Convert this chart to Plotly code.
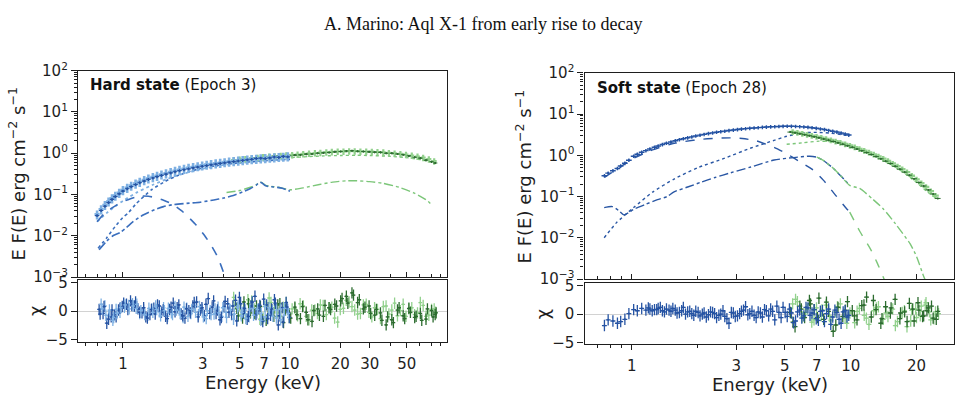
import plotly.graph_objects as go

# ====================== DATA ======================
# ---------- Left panel: Hard state (Epoch 3) ----------
L_E_blue = [0.70, 0.74, 0.78, 0.82, 0.86, 0.90, 0.95, 1.00, 1.06, 1.12,
            1.19, 1.26, 1.34, 1.42, 1.51, 1.60, 1.70, 1.81, 1.93, 2.05,
            2.18, 2.32, 2.47, 2.63, 2.80, 2.98, 3.17, 3.37, 3.59, 3.82,
            4.06, 4.32, 4.60, 4.90, 5.21, 5.55, 5.90, 6.28, 6.68, 7.11,
            7.57, 8.05, 8.57, 9.12, 9.70]
L_F_lightblue = [0.033, 0.044, 0.056, 0.068, 0.081, 0.094, 0.110, 0.128, 0.146, 0.164,
                 0.184, 0.204, 0.225, 0.245, 0.265, 0.285, 0.306, 0.328, 0.352, 0.376,
                 0.398, 0.420, 0.442, 0.464, 0.486, 0.507, 0.528, 0.548, 0.568, 0.588,
                 0.608, 0.628, 0.648, 0.667, 0.686, 0.704, 0.720, 0.736, 0.752, 0.767,
                 0.782, 0.797, 0.812, 0.826, 0.840]
L_F_darkblue = [0.031, 0.041, 0.052, 0.064, 0.076, 0.089, 0.104, 0.121, 0.138, 0.155,
                0.174, 0.193, 0.212, 0.232, 0.251, 0.270, 0.290, 0.311, 0.333, 0.356,
                0.377, 0.398, 0.419, 0.440, 0.462, 0.483, 0.503, 0.523, 0.545, 0.565,
                0.585, 0.606, 0.628, 0.648, 0.668, 0.690, 0.712, 0.745, 0.760, 0.742,
                0.770, 0.810, 0.790, 0.835, 0.820]

L_E_lightgreen = [4.6, 5.0, 5.4, 5.9, 6.4, 6.9, 7.5, 8.1, 8.8, 9.5,
                  10.3, 11.1, 12.0, 13.0, 14.1, 15.2, 16.5, 17.8, 19.3, 20.9,
                  22.6, 24.4, 26.4, 28.6, 30.9, 33.4, 36.2, 39.1, 42.3, 45.8,
                  49.5, 53.6, 58.0, 62.7, 67.8, 73.0]
L_F_lightgreen = [0.68, 0.71, 0.73, 0.76, 0.78, 0.81, 0.83, 0.85, 0.87, 0.89,
                  0.91, 0.93, 0.96, 0.99, 1.01, 1.03, 1.06, 1.08, 1.10, 1.11,
                  1.12, 1.12, 1.11, 1.10, 1.09, 1.07, 1.05, 1.02, 0.99, 0.96,
                  0.92, 0.88, 0.83, 0.78, 0.72, 0.64]
L_E_darkgreen = [4.8, 5.2, 5.65, 6.15, 6.65, 7.2, 7.8, 8.45, 9.15, 9.9,
                 10.7, 11.55, 12.5, 13.55, 14.65, 15.85, 17.15, 18.55, 20.1, 21.75,
                 23.5, 25.4, 27.5, 29.75, 32.15, 34.8, 37.65, 40.7, 44.0, 47.6,
                 51.5, 55.8, 60.3, 65.2, 70.4, 74.0]
L_F_darkgreen = [0.66, 0.70, 0.72, 0.75, 0.78, 0.79, 0.82, 0.84, 0.85, 0.87,
                 0.90, 0.91, 0.95, 0.96, 1.00, 1.02, 1.04, 1.08, 1.10, 1.13,
                 1.15, 1.12, 1.10, 1.08, 1.06, 1.05, 1.00, 1.00, 0.96, 0.92,
                 0.86, 0.80, 0.76, 0.68, 0.62, 0.58]

# model components (left)
L_disk_E = [0.70, 0.78, 0.85, 0.92, 1.00, 1.10, 1.20, 1.30, 1.42, 1.55,
            1.75, 2.00, 2.25, 2.45, 2.75, 3.08, 3.40, 3.70, 4.06, 4.30]
L_disk_F = [0.022, 0.036, 0.046, 0.056, 0.067, 0.078, 0.087, 0.092, 0.091, 0.085,
            0.073, 0.057, 0.040, 0.029, 0.018, 0.0102, 0.0056, 0.0030, 0.0011, 0.0006]
L_compA_E = [0.70, 0.80, 0.90, 1.00, 1.20, 1.50, 2.00, 2.50, 3.00, 4.00, 5.00, 6.50, 8.00, 10.0]
L_compA_F = [0.022, 0.036, 0.052, 0.070, 0.110, 0.170, 0.270, 0.350, 0.420, 0.520, 0.580, 0.640, 0.680, 0.720]
L_compB_E = [0.71, 0.80, 0.90, 1.00, 1.07, 1.20, 1.48, 1.80, 2.13, 2.50, 3.00, 4.00, 5.00, 6.50, 8.00, 10.0]
L_compB_F = [0.005, 0.009, 0.017, 0.028, 0.035, 0.060, 0.130, 0.210, 0.290, 0.360, 0.440, 0.530, 0.590, 0.640, 0.680, 0.710]
L_refl_blue_E = [0.72, 0.80, 0.875, 0.96, 1.05, 1.15, 1.32, 1.55, 1.75, 2.00, 2.40, 2.90, 3.50,
                 4.00, 4.58, 5.20, 5.80, 6.30, 6.60, 6.80, 7.10, 7.40, 8.00, 9.00, 10.0]
L_refl_blue_F = [0.0046, 0.0075, 0.0102, 0.012, 0.016, 0.022, 0.032, 0.043, 0.051, 0.057, 0.061, 0.065, 0.074,
                 0.082, 0.095, 0.115, 0.140, 0.170, 0.200, 0.190, 0.165, 0.157, 0.152, 0.142, 0.120]
L_refl_green_E = [4.17, 5.00, 5.80, 6.30, 6.60, 6.80, 7.10, 7.50, 8.50, 10.0, 12.0,
                  15.0, 18.0, 21.8, 25.0, 30.0, 36.0, 45.0, 55.0, 65.0, 70.5]
L_refl_green_F = [0.112, 0.125, 0.150, 0.175, 0.200, 0.195, 0.170, 0.160, 0.150, 0.130, 0.145,
                  0.175, 0.200, 0.215, 0.215, 0.205, 0.187, 0.150, 0.110, 0.075, 0.057]
L_comp_green_E = [4.5, 6.0, 8.0, 10.0, 13.0, 16.0, 20.0, 25.0, 30.0, 40.0, 50.0, 60.0, 70.0, 75.0]
L_comp_green_F = [0.62, 0.68, 0.74, 0.78, 0.83, 0.86, 0.88, 0.89, 0.88, 0.84, 0.78, 0.70, 0.62, 0.58]

# residuals (left)
L_res_db_E = [0.72, 0.76, 0.80, 0.85, 0.89, 0.94, 0.99, 1.05, 1.11, 1.17,
              1.23, 1.30, 1.37, 1.45, 1.53, 1.61, 1.70, 1.80, 1.90, 2.00,
              2.11, 2.23, 2.35, 2.48, 2.62, 2.76, 2.91, 3.07, 3.24, 3.42,
              3.61, 3.81, 4.02, 4.24, 4.47, 4.72, 4.98, 5.25, 5.54, 5.85,
              6.17, 6.51, 6.87, 7.25, 7.65, 8.07, 8.51, 8.98, 9.48, 9.90]
L_res_db = [0.3, -0.4, -2.1, -1.0, -0.6, 0.2, 0.8, 1.2, 1.8, 0.9,
            0.4, -0.3, -1.0, -0.6, 0.5, 1.1, -0.2, -0.9, 0.3, 1.4,
            0.6, -0.5, -1.2, 0.1, 0.9, 1.6, 0.2, -0.8, 2.2, 0.7,
            -0.4, -1.5, 0.8, 1.3, -0.6, 1.9, 2.4, -0.3, -1.4, 0.9,
            2.6, 0.4, -1.8, 1.1, -0.7, 2.0, -2.4, 0.6, 1.5, -1.1]
L_res_db_E2 = [0.73, 0.77, 0.82, 0.86, 0.91, 0.96, 1.01, 1.07, 1.13, 1.19,
               1.26, 1.33, 1.40, 1.48, 1.56, 1.65, 1.74, 1.84, 1.94, 2.05,
               2.16, 2.28, 2.40, 2.53, 2.67, 2.82, 2.97, 3.14, 3.31, 3.49,
               3.68, 3.88, 4.09, 4.31, 4.55, 4.80, 5.06, 5.34, 5.63, 5.94,
               6.26, 6.60, 6.96, 7.35, 7.75, 8.17, 8.62, 9.09, 9.59]
L_res_db2 = [-0.5, 0.8, -1.4, 0.2, -1.0, 0.5, 1.4, 0.3, 1.0, 1.6,
             -0.2, 0.6, -1.2, 0.3, -0.5, 0.9, 0.2, -1.3, 0.7, -0.1,
             1.1, -0.8, 0.4, -0.3, 1.5, -1.0, 0.6, 1.2, -0.4, 1.8,
             0.2, -1.1, 1.7, -0.2, 0.9, -1.7, 1.3, 0.5, -0.9, 1.6,
             -0.6, 1.0, 2.1, -1.3, 0.4, 1.4, -0.8, -1.9, 0.7]
L_res_lb_E = [0.74, 0.78, 0.82, 0.87, 0.91, 0.96, 1.02, 1.08, 1.14, 1.20,
              1.26, 1.33, 1.41, 1.49, 1.57, 1.65, 1.75, 1.85, 1.95, 2.05,
              2.17, 2.29, 2.41, 2.55, 2.69, 2.83, 2.99, 3.15, 3.33, 3.51,
              3.71, 3.91, 4.13, 4.35, 4.59, 4.85, 5.11, 5.39, 5.69, 6.01,
              6.34, 6.69, 7.06, 7.45, 7.86, 8.29, 8.74, 9.23, 9.70]
L_res_lb = [1.2, 0.9, -0.8, -1.6, 0.3, -0.2, 0.7, 1.0, 1.3, 0.5,
            -0.4, 0.2, -0.7, 0.4, 0.9, -0.1, 0.6, -0.9, -0.3, 0.8,
            0.2, -1.1, 0.5, -0.4, 1.0, -0.6, 0.3, -1.3, 0.1, -0.5,
            0.7, -0.9, -0.2, 0.4, -1.4, 0.6, -0.8, 0.2, -1.0, 0.5,
            -0.3, -1.6, 0.8, -0.5, 0.1, -1.2, 0.4, -0.7, 0.3]
L_res_lb_E2 = [0.75, 0.79, 0.83, 0.88, 0.92, 0.97, 1.03, 1.09, 1.15, 1.21,
               1.28, 1.35, 1.43, 1.51, 1.59, 1.68, 1.77, 1.87, 1.98, 2.09,
               2.20, 2.32, 2.45, 2.58, 2.72, 2.87, 3.03, 3.20, 3.37, 3.56,
               3.75, 3.96, 4.17, 4.40, 4.64, 4.89, 5.16, 5.44, 5.74, 6.05,
               6.38, 6.73, 7.10, 7.49, 7.90, 8.33, 8.79, 9.27, 9.78]
L_res_lb2 = [0.4, -0.7, 0.2, -1.1, -0.4, 0.6, 1.1, 0.4, 0.9, 1.2,
             0.1, -0.6, 0.5, -0.2, 0.3, -0.8, 0.1, 0.5, -0.6, 0.2,
             -0.4, 0.7, -0.9, 0.3, -0.2, 0.8, -1.0, 0.1, -0.6, 0.4,
             -0.3, 0.6, -1.1, 0.2, -0.5, 0.9, -0.2, -1.3, 0.4, -0.7,
             0.3, -0.4, -1.0, 0.6, -0.9, 0.2, -1.5, 0.5, -0.4]
L_res_lg = [2.4, 1.0, -0.5, 1.8, 0.3, -1.2, 2.3, 0.6, -0.9, 1.5,
            0.4, -0.8, 0.9, -1.5, 0.2, 1.1, -0.6, 0.7, -1.9, 0.5,
            1.6, 0.2, -0.4, 1.2, -1.0, 0.3, 0.8, -0.5, 1.4, 0.1,
            -0.9, 0.6, -0.3, 1.0, -0.7, 0.4]
L_res_lg_E2 = [4.7, 5.1, 5.6, 6.1, 6.6, 7.1, 7.7, 8.4, 9.1, 9.9,
               10.7, 11.5, 12.5, 13.5, 14.6, 15.8, 17.1, 18.5, 20.0, 21.7,
               23.5, 25.4, 27.5, 29.7, 32.1, 34.8, 37.6, 40.7, 44.0, 47.6,
               51.5, 55.7, 60.3, 65.2, 70.4, 74.5]
L_res_lg2 = [1.2, -0.6, 2.0, 0.4, -1.4, 0.9, 1.5, -0.3, 0.7, -1.1,
             0.5, 1.3, -0.9, 0.2, -0.4, 1.0, 0.6, -1.2, 0.3, 1.9,
             0.8, -0.5, 1.1, -0.2, 0.6, -1.3, 0.9, 0.2, -0.8, 1.2,
             0.4, -0.6, 1.5, -0.9, 0.3, -0.2]
L_res_dg = [0.5, -1.2, 1.3, -0.4, 0.8, -1.6, 0.2, 1.1, -2.0, -0.5,
            0.7, -1.3, -0.2, -1.8, 0.4, -0.9, 0.6, 1.2, 1.8, 2.6,
            3.2, 1.5, 0.4, 0.9, -0.7, -0.3, -2.4, -1.5, 0.2, -0.8,
            0.5, -1.1, -0.4, -1.4, 0.1, -0.6]
L_res_dg_E2 = [4.9, 5.3, 5.8, 6.3, 6.8, 7.4, 8.0, 8.7, 9.4, 10.1,
               11.0, 11.9, 12.8, 13.9, 15.0, 16.2, 17.5, 19.0, 20.5, 22.2,
               24.0, 26.0, 28.1, 30.4, 32.9, 35.5, 38.4, 41.6, 45.0, 48.6,
               52.6, 56.9, 61.5, 66.5, 71.9, 75.0]
L_res_dg2 = [-0.8, 1.6, -0.3, 0.9, -1.4, 0.6, -0.9, 1.3, 0.2, -1.2,
             -0.6, 0.8, -1.5, 0.1, -0.7, 1.0, 0.3, 0.9, 2.2, 1.4,
             2.8, 2.0, 0.7, -0.4, 0.3, -1.6, -1.0, -2.0, 0.6, -1.3,
             -0.2, -0.9, -1.6, 0.4, -1.0, -0.3]

# ---------- Right panel: Soft state (Epoch 28) ----------
R_E_blue = [0.75, 0.78, 0.82, 0.86, 0.89, 0.93, 0.97, 1.02, 1.06, 1.11,
            1.16, 1.21, 1.27, 1.32, 1.38, 1.44, 1.51, 1.58, 1.65, 1.72,
            1.80, 1.88, 1.96, 2.05, 2.14, 2.24, 2.34, 2.44, 2.55, 2.66,
            2.78, 2.91, 3.04, 3.17, 3.31, 3.46, 3.62, 3.78, 3.95, 4.12,
            4.31, 4.50, 4.70, 4.91, 5.13, 5.36, 5.60, 5.85, 6.11, 6.38,
            6.66, 6.96, 7.27, 7.59, 7.93, 8.28, 8.65, 9.04, 9.44, 9.80]
R_F_blue = [0.32, 0.37, 0.42, 0.48, 0.55, 0.64, 0.76, 0.95, 1.06, 1.18,
            1.30, 1.42, 1.56, 1.68, 1.82, 1.96, 2.10, 2.25, 2.40, 2.52,
            2.66, 2.80, 2.94, 3.08, 3.22, 3.36, 3.50, 3.62, 3.75, 3.86,
            3.98, 4.10, 4.22, 4.32, 4.42, 4.52, 4.60, 4.68, 4.76, 4.84,
            4.90, 4.96, 5.00, 5.04, 5.06, 5.05, 5.02, 4.96, 4.88, 4.78,
            4.66, 4.52, 4.36, 4.20, 4.02, 3.84, 3.66, 3.46, 3.28, 3.10]
R_res_blue = [-2.0, -1.0, -1.2, -1.6, -1.3, -0.9, 0.1, 0.8, 0.6, 1.0,
              0.7, 0.9, 0.8, 1.0, 0.6, 0.9, 0.5, 0.7, 0.3, 1.2,
              0.4, 0.1, 0.5, -0.3, 0.2, -0.1, 0.3, -0.6, 0.0, -0.4,
              -1.6, 0.2, -0.3, 0.5, 1.3, 0.1, -0.2, 0.4, -0.5, 0.6,
              0.9, -1.0, 0.3, 1.2, -0.4, 0.2, -1.2, 0.7, -0.3, 1.1,
              0.2, -0.8, 0.5, -1.3, 0.9, -0.5, 0.3, -1.6, 0.6, -0.2]
R_res_blue_E2 = [1.19, 1.24, 1.30, 1.35, 1.41, 1.48, 1.54, 1.61, 1.69, 1.76,
                 1.84, 1.92, 2.01, 2.10, 2.19, 2.29, 2.39, 2.50, 2.61, 2.72,
                 2.85, 2.97, 3.11, 3.24, 3.39, 3.54, 3.70, 3.87, 4.04, 4.22,
                 4.40, 4.60, 4.81, 5.02, 5.25, 5.48, 5.72, 5.98, 6.25, 6.52,
                 6.81, 7.12, 7.43, 7.76, 8.11, 8.47, 8.85, 9.24, 9.62]
R_res_blue2 = [1.1, 0.6, 0.8, 1.2, 0.4, 0.7, 1.0, 0.2, 0.6, 0.0,
               0.5, -0.2, 0.3, 0.0, -0.5, 0.4, 0.1, -0.2, 0.6, -0.8,
               0.3, -0.4, 0.1, 0.7, -0.1, 0.5, -0.6, 0.2, 0.8, -0.3,
               0.5, 1.4, -0.6, 0.3, 0.9, -1.5, 0.4, -0.7, 1.2, -0.2,
               0.8, -1.1, 0.6, 0.1, -1.8, 0.7, -0.9, 0.4, -0.5]

R_E_darkgreen = [5.30, 5.57, 5.86, 6.16, 6.48, 6.81, 7.16, 7.53, 7.92, 8.32,
                 8.75, 9.20, 9.67, 10.17, 10.69, 11.24, 11.82, 12.42, 13.06, 13.73,
                 14.44, 15.18, 15.96, 16.78, 17.64, 18.54, 19.49, 20.49, 21.55, 22.65,
                 23.81, 25.00]
R_F_darkgreen = [3.65, 3.50, 3.32, 3.15, 2.98, 2.82, 2.65, 2.48, 2.32, 2.16,
                 2.00, 1.85, 1.70, 1.56, 1.42, 1.29, 1.16, 1.04, 0.93, 0.82,
                 0.72, 0.63, 0.54, 0.46, 0.39, 0.33, 0.27, 0.22, 0.18, 0.145,
                 0.115, 0.090]
R_res_darkgreen = [0.3, -2.2, 1.4, -0.6, 2.4, 0.8, 2.8, -0.9, 0.5, -3.0,
                   1.2, -0.4, 2.2, 0.6, -1.0, 1.5, 3.0, -0.5, 0.8, -1.6,
                   1.3, 0.2, 2.6, -0.8, 0.4, 1.9, -1.2, 0.7, -0.3, 1.1,
                   -0.7, 0.5]
R_res_dg_E2 = [5.45, 5.95, 6.55, 7.05, 7.75, 8.55, 9.45, 10.4, 11.5, 12.7,
               13.9, 15.3, 16.9, 18.1, 19.2, 20.3, 21.3, 22.3, 23.4, 24.6]
R_res_dg2 = [-1.4, 0.9, 1.8, -0.6, 2.1, -1.9, 0.7, -0.3, 1.6, 2.4,
             -0.8, 1.1, 0.2, -1.3, 0.9, 2.0, -0.4, 0.6, 1.4, -0.9]
R_E_lightgreen = [5.43, 5.71, 6.01, 6.32, 6.64, 6.98, 7.34, 7.72, 8.12, 8.53,
                  8.97, 9.43, 9.92, 10.43, 10.96, 11.53, 12.12, 12.74, 13.39, 14.08,
                  14.80, 15.56, 16.36, 17.20, 18.08, 19.01, 19.98, 21.01, 22.09, 23.22,
                  24.41]
R_F_lightgreen = [3.70, 3.52, 3.35, 3.17, 3.00, 2.84, 2.67, 2.50, 2.34, 2.18,
                  2.02, 1.87, 1.72, 1.57, 1.43, 1.30, 1.17, 1.05, 0.94, 0.83,
                  0.73, 0.63, 0.54, 0.46, 0.39, 0.32, 0.26, 0.21, 0.17, 0.135,
                  0.105]
R_res_lightgreen = [1.8, 2.2, -0.5, 0.9, -1.4, 1.1, -0.3, 1.6, -1.1, 0.4,
                    1.8, -0.7, 0.2, -1.5, 1.0, -0.2, -1.8, 0.6, 1.3, -0.9,
                    -0.4, 0.9, -1.3, 0.3, -2.2, 0.7, -0.6, 1.4, 2.0, -1.0,
                    0.4]
R_res_lg_E2 = [5.6, 6.2, 6.8, 7.4, 8.0, 8.7, 9.6, 10.7, 11.8, 13.1,
               14.5, 16.0, 17.6, 18.8, 19.8, 20.8, 21.9, 22.9, 24.0, 25.2]
R_res_lg2 = [2.6, 0.3, -1.0, 0.8, -0.4, 1.3, -1.6, 0.5, -0.7, 1.1,
             0.2, -2.0, 0.6, -1.2, 0.9, -0.3, 1.6, 0.4, -0.8, 0.1]

# model components (right)
R_disk_blue_E = [0.75, 0.85, 1.00, 1.22, 1.50, 1.73, 2.10, 2.50, 2.83, 3.20,
                 3.70, 4.47, 5.10, 5.80, 6.70, 7.50, 8.50, 9.60, 9.90]
R_disk_blue_F = [0.29, 0.45, 0.80, 1.30, 1.85, 2.15, 2.45, 2.60, 2.64, 2.55,
                 2.25, 1.55, 1.09, 0.72, 0.45, 0.25, 0.11, 0.050, 0.042]
R_disk_green_E = [9.9, 11.0, 12.3, 13.2, 14.1, 14.6]
R_disk_green_F = [0.042, 0.0144, 0.0054, 0.0025, 0.0011, 0.0007]
R_comp_blue_E = [0.748, 0.85, 1.02, 1.25, 1.56, 2.00, 2.64, 3.50, 4.47, 5.00, 6.00, 7.00, 8.00, 9.00, 9.80]
R_comp_blue_F = [0.010, 0.023, 0.054, 0.130, 0.265, 0.500, 0.840, 1.50, 2.30, 2.80, 3.50, 3.60, 3.45, 3.20, 2.95]
R_comp_green_E = [5.10, 6.00, 7.20, 8.50, 10.0, 12.0, 14.0, 16.0, 18.0, 20.0, 22.0, 25.0]
R_comp_green_F = [1.85, 2.00, 2.20, 2.10, 1.70, 1.15, 0.78, 0.52, 0.34, 0.22, 0.14, 0.085]
R_refl_blue_E = [0.748, 0.815, 0.87, 0.92, 0.97, 1.02, 1.15, 1.31, 1.45, 1.56, 1.80, 2.06,
                 2.40, 2.83, 3.50, 4.47, 5.50, 6.50, 7.00, 7.50, 8.30, 9.00, 9.90]
R_refl_blue_F = [0.054, 0.057, 0.046, 0.036, 0.041, 0.049, 0.064, 0.084, 0.100, 0.130, 0.170, 0.220,
                 0.290, 0.377, 0.520, 0.770, 0.880, 0.950, 0.900, 0.750, 0.490, 0.320, 0.186]
R_refl_green_E = [7.00, 7.50, 8.30, 9.00, 9.90, 11.0, 12.5, 14.1, 16.0, 18.7, 20.0, 21.5, 22.0]
R_refl_green_F = [0.900, 0.750, 0.490, 0.320, 0.186, 0.157, 0.090, 0.050, 0.022, 0.0071, 0.0035, 0.0012, 0.0009]

# tick labels
Y_MAIN_VALS = [1e-3, 1e-2, 1e-1, 1, 10, 100]
Y_MAIN_TEXT = ['10<sup>−3</sup>', '10<sup>−2</sup>', '10<sup>−1</sup>',
               '10<sup>0</sup>', '10<sup>1</sup>', '10<sup>2</sup>']
Y_RES_VALS = [-5, 0, 5]
Y_RES_TEXT = ['−5', '0', '5']
X_LEFT_VALS = [1, 3, 5, 7, 10, 20, 30, 50]
X_RIGHT_VALS = [1, 3, 5, 7, 10, 20]

# ====================== STYLE ======================
DARK_BLUE = '#2553a3'
LIGHT_BLUE = '#7eb0e2'
LIGHT_GREEN = '#92d18d'
DARK_GREEN = '#2c6c2f'
MODEL_BLUE_L = '#3a6ebd'
MODEL_BLUE_R = '#2a57a4'
MODEL_GREEN = '#7cc679'
AX = '#1e1e1e'
FONT = 'DejaVu Sans'

fig = go.Figure()


def add_data(E, F, color, xa, ya, ypct, thick=1.5, xpct=3.0):
    fig.add_trace(go.Scatter(
        x=E, y=F, mode='markers', xaxis=xa, yaxis=ya,
        marker=dict(color=color, size=2),
        error_y=dict(type='percent', value=ypct, color=color, thickness=thick, width=0),
        error_x=dict(type='percent', value=xpct, color=color, thickness=thick, width=0),
        showlegend=False, hoverinfo='skip'))


def add_res(E, R, color, xa, ya, xpct=2.6):
    fig.add_trace(go.Scatter(
        x=E, y=R, mode='markers', xaxis=xa, yaxis=ya,
        marker=dict(color=color, size=2),
        error_y=dict(type='constant', value=1.0, color=color, thickness=1.3, width=0),
        error_x=dict(type='percent', value=xpct, color=color, thickness=1.3, width=0),
        showlegend=False, hoverinfo='skip'))


def add_line(E, F, color, dash, xa, ya, width=1.4):
    fig.add_trace(go.Scatter(
        x=E, y=F, mode='lines', xaxis=xa, yaxis=ya,
        line=dict(color=color, dash=dash, width=width, shape='spline', smoothing=0.6),
        showlegend=False, hoverinfo='skip'))


# ---- left main
add_line(L_comp_green_E, L_comp_green_F, MODEL_GREEN, 'dot', 'x', 'y')
add_line(L_refl_green_E, L_refl_green_F, MODEL_GREEN, 'dashdot', 'x', 'y')
add_line(L_compA_E, L_compA_F, LIGHT_BLUE, 'dot', 'x', 'y', 1.8)
add_line(L_compB_E, L_compB_F, MODEL_BLUE_L, 'dot', 'x', 'y', 1.6)
add_line(L_disk_E, L_disk_F, MODEL_BLUE_L, 'dash', 'x', 'y', 1.6)
add_line(L_refl_blue_E, L_refl_blue_F, MODEL_BLUE_L, 'dashdot', 'x', 'y', 1.6)
add_data(L_E_lightgreen, L_F_lightgreen, LIGHT_GREEN, 'x', 'y', 18, 2.2, 3.5)
add_data(L_E_darkgreen, L_F_darkgreen, DARK_GREEN, 'x', 'y', 6, 1.1)
add_data(L_E_blue, L_F_lightblue, LIGHT_BLUE, 'x', 'y', 25, 2.6, 3.5)
add_data(L_E_blue, L_F_darkblue, DARK_BLUE, 'x', 'y', 8, 1.2)

# ---- left residuals
add_res(L_E_lightgreen, L_res_lg, LIGHT_GREEN, 'x2', 'y2')
add_res(L_res_lg_E2, L_res_lg2, LIGHT_GREEN, 'x2', 'y2')
add_res(L_E_darkgreen, L_res_dg, DARK_GREEN, 'x2', 'y2')
add_res(L_res_dg_E2, L_res_dg2, DARK_GREEN, 'x2', 'y2')
add_res(L_res_db_E, L_res_db, DARK_BLUE, 'x2', 'y2')
add_res(L_res_lb_E, L_res_lb, LIGHT_BLUE, 'x2', 'y2')
add_res(L_res_db_E2, L_res_db2, DARK_BLUE, 'x2', 'y2')
add_res(L_res_lb_E2, L_res_lb2, LIGHT_BLUE, 'x2', 'y2')

# ---- right main
add_line(R_comp_green_E, R_comp_green_F, MODEL_GREEN, 'dot', 'x3', 'y3')
add_line(R_comp_blue_E, R_comp_blue_F, MODEL_BLUE_R, 'dot', 'x3', 'y3')
add_line(R_disk_blue_E, R_disk_blue_F, MODEL_BLUE_R, 'dash', 'x3', 'y3')
add_line(R_disk_green_E, R_disk_green_F, MODEL_GREEN, 'dash', 'x3', 'y3')
add_line(R_refl_blue_E, R_refl_blue_F, MODEL_BLUE_R, 'dashdot', 'x3', 'y3')
add_line(R_refl_green_E, R_refl_green_F, MODEL_GREEN, 'dashdot', 'x3', 'y3')
add_data(R_E_lightgreen, R_F_lightgreen, LIGHT_GREEN, 'x3', 'y3', 16, 2.4, 3.5)
add_data(R_E_darkgreen, R_F_darkgreen, DARK_GREEN, 'x3', 'y3', 4, 1.0)
add_data(R_E_blue, R_F_blue, DARK_BLUE, 'x3', 'y3', 10, 1.4)

# ---- right residuals
add_res(R_E_lightgreen, R_res_lightgreen, LIGHT_GREEN, 'x4', 'y4')
add_res(R_res_lg_E2, R_res_lg2, LIGHT_GREEN, 'x4', 'y4')
add_res(R_E_darkgreen, R_res_darkgreen, DARK_GREEN, 'x4', 'y4')
add_res(R_res_dg_E2, R_res_dg2, DARK_GREEN, 'x4', 'y4')
add_res(R_E_blue, R_res_blue, DARK_BLUE, 'x4', 'y4')
add_res(R_res_blue_E2, R_res_blue2, DARK_BLUE, 'x4', 'y4')

# ====================== AXES ======================
W, H = 962, 404


def px_x(p):
    return p / W


def px_y(p):
    return 1 - p / H


tickfont = dict(family=FONT, size=15, color=AX)
base = dict(showline=True, linecolor=AX, linewidth=1.3, mirror=True,
            showgrid=False, zeroline=False, tickcolor=AX, tickwidth=1.1,
            tickfont=tickfont)
minor_y = [m * 10 ** k for k in range(-3, 2) for m in range(2, 10)]
minor_x = [0.6, 0.7, 0.8, 0.9, 2, 4, 6, 8, 9, 40, 60, 70, 80]

L_XDOM = [px_x(78), px_x(447)]
R_XDOM = [px_x(584.5), px_x(954)]
L_XR = [-0.2692, 1.9400]
R_XR = [-0.2160, 1.4720]

ymain = dict(base, type='log', range=[-3, 2], tickmode='array', tickvals=Y_MAIN_VALS,
             ticktext=Y_MAIN_TEXT, ticks='outside', ticklen=6,
             minor=dict(tickmode='array', tickvals=minor_y, ticks='outside', ticklen=3,
                        tickcolor=AX, tickwidth=0.8))
yres = dict(base, range=[-5.4, 5.4], tickmode='array', tickvals=Y_RES_VALS, ticktext=Y_RES_TEXT,
            ticks='outside', ticklen=6, zeroline=True, zerolinecolor='#d2d2d2', zerolinewidth=1.2)


def xmain(dom, rng, vals, anchor):
    return dict(base, type='log', range=rng, domain=dom, anchor=anchor, tickmode='array',
                tickvals=vals, showticklabels=False, ticks='inside', ticklen=5,
                minor=dict(tickmode='array', tickvals=minor_x, ticks='inside', ticklen=3,
                           tickcolor=AX, tickwidth=0.8))


def xres(dom, rng, vals, anchor):
    return dict(base, type='log', range=rng, domain=dom, anchor=anchor, tickmode='array',
                tickvals=vals, ticktext=[str(v) for v in vals], ticks='outside', ticklen=5,
                ticklabelstandoff=3,
                minor=dict(tickmode='array', tickvals=minor_x, ticks='outside', ticklen=3,
                           tickcolor=AX, tickwidth=0.8))


fig.update_layout(
    width=W, height=H, autosize=False,
    margin=dict(l=0, r=0, t=0, b=0),
    paper_bgcolor='white', plot_bgcolor='white',
    showlegend=False,
    xaxis=xmain(L_XDOM, L_XR, X_LEFT_VALS, 'y'),
    yaxis=dict(ymain, domain=[px_y(280), px_y(62.7)], anchor='x'),
    xaxis2=xres(L_XDOM, L_XR, X_LEFT_VALS, 'y2'),
    yaxis2=dict(yres, domain=[px_y(348.3), px_y(283.3)], anchor='x2'),
    xaxis3=xmain(R_XDOM, R_XR, X_RIGHT_VALS, 'y3'),
    yaxis3=dict(ymain, domain=[px_y(282), px_y(65)], anchor='x3'),
    xaxis4=xres(R_XDOM, R_XR, X_RIGHT_VALS, 'y4'),
    yaxis4=dict(yres, range=[-5.3, 5.5], domain=[px_y(350.7), px_y(286)], anchor='x4'),
)

labfont = dict(family=FONT, size=18, color=AX)
ann = [
    dict(text='A. Marino: Aql X-1 from early rise to decay', x=px_x(483), y=px_y(14),
         font=dict(family='Liberation Serif', size=18, color='#111'), xanchor='center', yanchor='middle'),
    dict(text='<b>Hard state</b> (Epoch 3)', x=px_x(88), y=px_y(78),
         font=dict(family=FONT, size=15, color='#111'), xanchor='left', yanchor='middle'),
    dict(text='<b>Soft state</b> (Epoch 28)', x=px_x(595), y=px_y(80.5),
         font=dict(family=FONT, size=15, color='#111'), xanchor='left', yanchor='middle'),
    dict(text='E F(E) erg cm<sup>−2</sup> s<sup>−1</sup>', x=px_x(17), y=px_y(171),
         textangle=-90, font=labfont, xanchor='center', yanchor='middle'),
    dict(text='E F(E) erg cm<sup>−2</sup> s<sup>−1</sup>', x=px_x(524), y=px_y(174),
         textangle=-90, font=labfont, xanchor='center', yanchor='middle'),
    dict(text='χ', x=px_x(35), y=px_y(315.7), textangle=-90, font=labfont,
         xanchor='center', yanchor='middle'),
    dict(text='χ', x=px_x(542), y=px_y(319), textangle=-90, font=labfont,
         xanchor='center', yanchor='middle'),
    dict(text='Energy (keV)', x=px_x(263), y=px_y(391), font=labfont,
         xanchor='center', yanchor='middle'),
    dict(text='Energy (keV)', x=px_x(770), y=px_y(392.5), font=labfont,
         xanchor='center', yanchor='middle'),
]
for a in ann:
    a.update(xref='paper', yref='paper', showarrow=False)
fig.update_layout(annotations=ann)

fig.write_html('out.html')
